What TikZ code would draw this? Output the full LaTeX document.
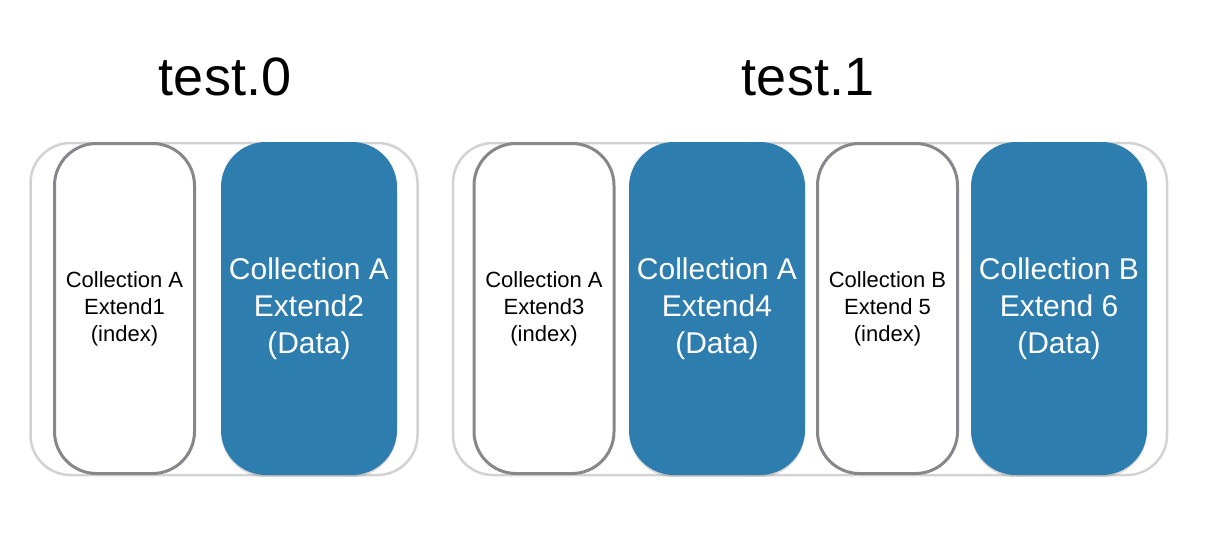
\documentclass[tikz,border=0pt]{standalone}
\usepackage{fontspec}
\setmainfont{Liberation Sans}
\usetikzlibrary{positioning,shadows}
\definecolor{pillblue}{HTML}{2E7DAF}
\definecolor{pillgray}{HTML}{87878B}
\definecolor{framegray}{HTML}{D2D2D2}

\begin{document}
\begin{tikzpicture}[x=1pt, y=-1pt,
				container/.style={
					rectangle, draw=framegray, line width=2.5pt,
					rounded corners=40pt, inner sep=0pt,
					minimum height=332pt
				},
				indexpill/.style={
					rectangle, draw=pillgray, line width=3pt, fill=white,
					rounded corners=42pt,
					minimum width=140pt, minimum height=330pt,
					align=center, font=\fontsize{22}{27}\selectfont,
					execute at begin node={\vspace*{8pt}}
				},
				datapill/.style={
					rectangle, fill=pillblue, text=white,
					rounded corners=45pt,
					minimum width=176pt, minimum height=333pt,
					align=center, font=\fontsize{30}{37}\selectfont,
					execute at begin node={\vspace*{10pt}},
					drop shadow={shadow xshift=0pt, shadow yshift=-2pt, opacity=0.3}
				},
				title/.style={anchor=base, font=\fontsize{54}{60}\selectfont}
				]
				\useasboundingbox (0,0) rectangle (1214,542);
				
				% containers
				\node[container, minimum width=387pt] (test0) at (224,309) {};
				\node[container, minimum width=714pt] (test1) at (810,309) {};
				
				% titles
				\node[title] (title0) at (225,95) {test.0};
				\node[title] (title1) at (808,95) {test.1};
				
				% test.0
				\node[indexpill] (extend1) at (124.5,308.5) {Collection A\\Extend1\\(index)};
				\node[datapill] (extend2) at (309,308.5) {Collection A\\Extend2\\(Data)};
				
				% test.1
				\node[indexpill] (extend3) at (544,308.5) {Collection A\\Extend3\\(index)};
				\node[datapill] (extend4) at (717,308.5) {Collection A\\Extend4\\(Data)};
				\node[indexpill] (extend5) at (887.5,308.5) {Collection B\\Extend 5\\(index)};
				\node[datapill] (extend6) at (1059,308.5) {Collection B\\Extend 6\\(Data)};
			\end{tikzpicture}
\end{document}
